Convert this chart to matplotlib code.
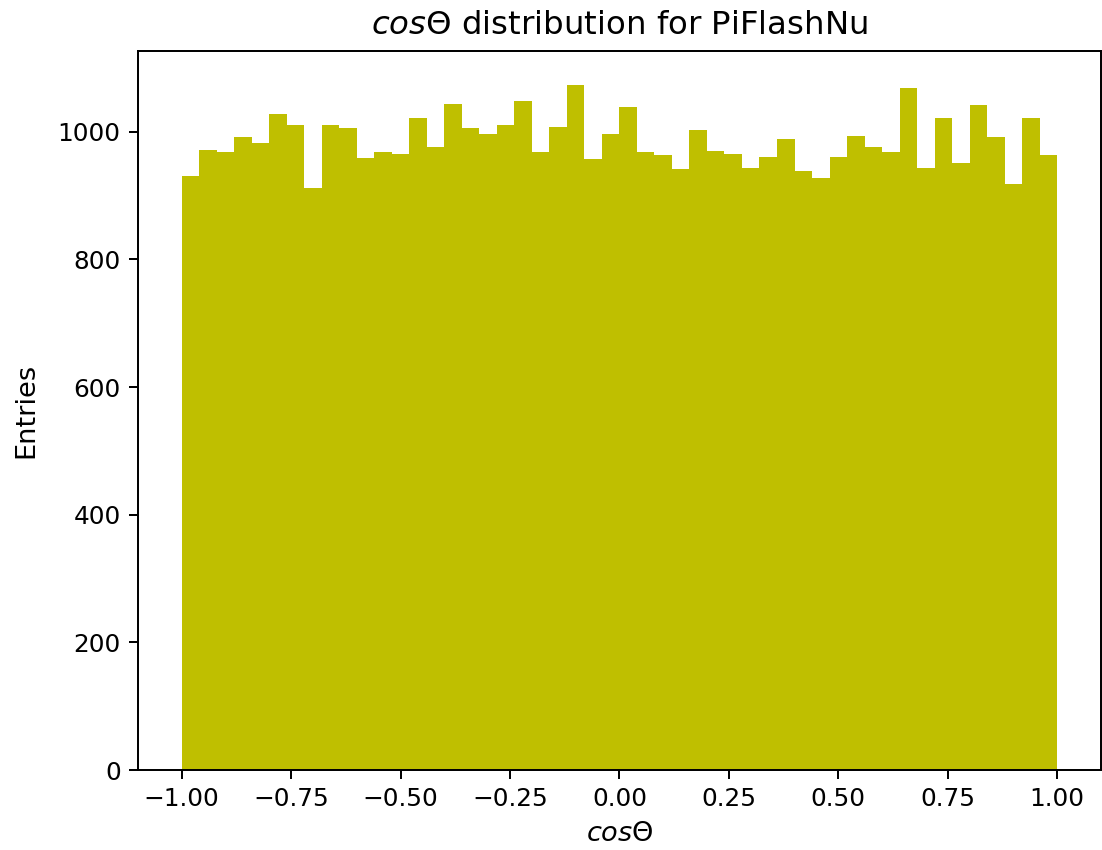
import matplotlib
matplotlib.use("Agg")
import matplotlib.pyplot as plt
import numpy as np

# counts per bin of cos(theta), 50 bins from -1 to 1
counts = [931, 971, 969, 992, 983, 1028, 1011, 912, 1010, 1006,
          959, 969, 965, 1021, 976, 1043, 1006, 996, 1011, 1048,
          969, 1008, 1073, 957, 996, 1039, 969, 964, 942, 1003,
          970, 966, 944, 960, 988, 939, 928, 960, 994, 976,
          968, 1068, 943, 1021, 951, 1042, 992, 918, 1021, 964]
edges = np.linspace(-1.0, 1.0, len(counts) + 1)
centers = 0.5 * (edges[:-1] + edges[1:])

DPI = 178
fig = plt.figure(figsize=(1102 / DPI, 850 / DPI), dpi=DPI)
ax = fig.add_axes([0.1252, 0.0941, 0.8738, 0.8459])

ax.hist(centers, bins=edges, weights=counts, color='y')
ax.set_title(r"$cos\Theta$ distribution for PiFlashNu", fontsize=13.1, pad=7)
ax.set_xlabel(r"$cos\Theta$", fontsize=11)
ax.set_ylabel("Entries", fontsize=11, labelpad=7.5)

fig.savefig("out.png", dpi=DPI)
